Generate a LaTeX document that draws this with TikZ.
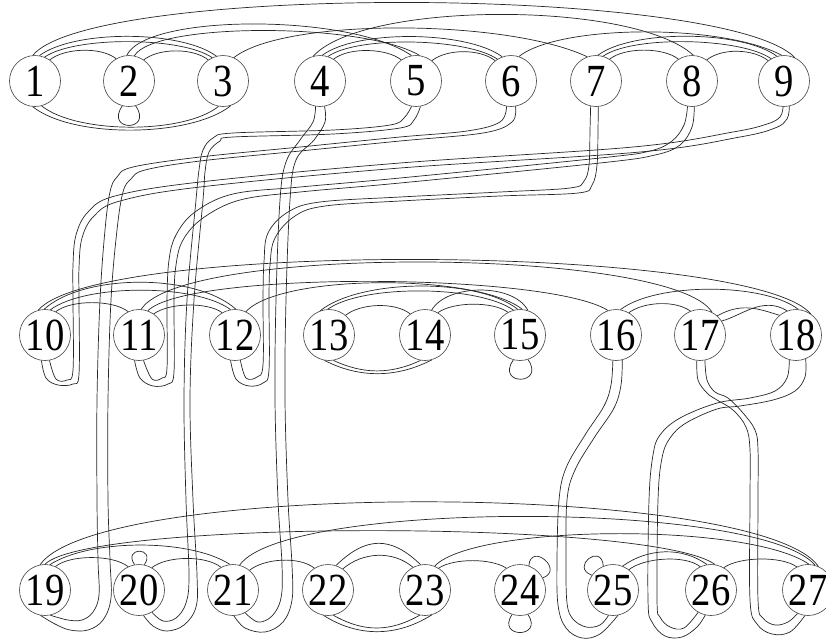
\documentclass[tikz,border=0pt]{standalone}
\usepackage{fontspec}
\newfontfamily\labfont[FakeStretch=0.84]{Liberation Serif}
\begin{document}
\begin{tikzpicture}[x=1pt,y=-1pt,line width=0.7pt,
  vtx/.style={circle,draw=black!75,line width=0.6pt,fill=white,minimum size=51pt,inner sep=0pt,
    font=\labfont\fontsize{46}{46}\selectfont},
  edge/.style={draw=black!85}]
\clip (0,0) rectangle (826,641);
\useasboundingbox (0,0) rectangle (826,641);
\newcommand\tarc[6]{\draw[edge] (#1.#2) .. controls +(#5,-#6) and +(-#5,-#6) .. (#3.#4);}
\newcommand\barc[6]{\draw[edge] (#1.#2) .. controls +(#5,#6) and +(-#5,#6) .. (#3.#4);}
% nodes
\foreach \n/\x in {1/35,2/129,3/223,4/320,5/416,6/511,7/596,8/692,9/784}
  \node[vtx] (n\n) at (\x,81) {\n};
\foreach \n/\x in {10/45,11/139,12/235,13/329,14/425,15/520,16/616,17/700,18/796}
  \node[vtx] (n\n) at (\x,335) {\n};
\foreach \n/\x in {19/45,20/139,21/233,22/328,23/425,24/520,25/613,26/711,27/808}
  \node[vtx] (n\n) at (\x,590) {\n};
\begin{scope}[edge]
% ---- row 1 top arcs
\tarc{n1}{55}{n2}{120}{15}{12}
\tarc{n2}{55}{n3}{125}{15}{12}
\tarc{n1}{80}{n3}{105}{35}{26}
\tarc{n1}{68}{n3}{115}{30}{21}
\draw[edge] (n1.95) .. controls +(60,-72) and +(-70,-72) .. (n9.65);
\draw[edge] (n2.95) .. controls +(20,-42) and +(-60,-42) .. (n5.100);
\draw[edge] (n2.78) .. controls +(20,-34) and +(-55,-33) .. (n5.82);
\draw[edge] (n3.65) .. controls +(50,-40) and +(-80,-38) .. (n7.110);
\tarc{n4}{58}{n5}{125}{15}{12}
\tarc{n4}{85}{n6}{110}{35}{26}
\tarc{n4}{72}{n6}{122}{30}{21}
\draw[edge] (n4.105) .. controls +(50,-55) and +(-60,-55) .. (n8.87);
\tarc{n5}{52}{n6}{128}{15}{12}
\draw[edge] (n6.72) .. controls +(40,-32) and +(-60,-32) .. (n9.95);
\tarc{n7}{58}{n8}{122}{15}{12}
\tarc{n7}{86}{n9}{106}{35}{26}
\tarc{n7}{74}{n9}{120}{30}{21}
\tarc{n8}{55}{n9}{128}{15}{12}
% ---- row 1 bottom
\barc{n1}{-95}{n3}{-72}{40}{32}
\barc{n1}{-75}{n3}{-100}{35}{28}
\draw[edge] (n2.-105) .. controls +(-18,26) and +(18,26) .. (n2.-75);
% ---- long edges
% 4-21
\draw[edge] plot[smooth,tension=0.6] coordinates {(n4.-100) (313,122) (300,140) (286,162) (280,200) (276,300) (275,400) (278,500) (282,565) (281,598) (272,616) (258,622) (n21.-62)};
\draw[edge] plot[smooth,tension=0.6] coordinates {(n4.-80) (325,122) (314,140) (296,160) (290,200) (286,300) (285,400) (288,500) (292,565) (292,600) (283,622) (265,632) (245,628) (n21.-88)};
% 5-20
\draw[edge] plot[smooth,tension=0.6] coordinates {(n5.-100) (404,118) (390,125) (333,130) (233,133) (213,138) (203,150) (199,170) (196,200) (187,300) (184,400) (186,500) (189,575) (186,603) (176,618) (163,621) (n20.-60)};
\draw[edge] plot[smooth,tension=0.6] coordinates {(n5.-80) (414,120) (400,128) (333,134) (233,137) (220,141) (209,152) (205,172) (203,200) (194,300) (190,400) (193,500) (197,575) (196,607) (184,625) (167,631) (153,626) (n20.-80)};
% 6-19
\draw[edge] plot[smooth,tension=0.6] coordinates {(n6.-100) (500,122) (467,131) (400,137) (300,147) (200,157) (133,167) (117,177) (110,192) (105,230) (100,300) (97,400) (97,500) (98,560) (99,595) (93,612) (82,620) (68,620) (n19.-78)};
\draw[edge] plot[smooth,tension=0.6] coordinates {(n6.-80) (512,122) (483,133) (400,141) (300,151) (200,161) (145,170) (131,179) (123,192) (117,230) (111,300) (108,400) (108,500) (110,560) (111,598) (103,620) (88,630) (70,630) (55,624) (n19.-100)};
% 7-12
\draw[edge] plot[smooth,tension=0.6] coordinates {(n7.-102) (590,130) (589,165) (584,181) (570,188) (500,192) (400,197) (320,202) (288,212) (268,233) (264,262) (263,300) (263,365) (257,377) (246,378) (n12.-78)};
\draw[edge] plot[smooth,tension=0.6] coordinates {(n7.-85) (598,130) (597,165) (592,185) (578,193) (500,196) (400,201) (325,206) (295,216) (275,238) (270,265) (269,300) (269,370) (263,383) (249,386) (236,379) (n12.-100)};
% 8-11
\draw[edge] plot[smooth,tension=0.6] coordinates {(n8.-100) (684,125) (672,141) (650,151) (600,158) (400,178) (300,187) (233,194) (195,212) (176,235) (169,260) (167,300) (167,368) (162,378) (152,379) (n11.-80)};
\draw[edge] plot[smooth,tension=0.6] coordinates {(n8.-85) (692,127) (680,145) (655,155) (600,163) (400,183) (300,192) (240,200) (203,218) (183,240) (176,265) (174,300) (174,372) (168,384) (153,386) (140,378) (n11.-100)};
% 9-10
\draw[edge] plot[smooth,tension=0.6] coordinates {(n9.-92) (780,117) (767,124) (733,132) (633,147) (400,163) (200,182) (115,196) (88,212) (76,235) (73,265) (73,300) (73,370) (67,380) (56,379) (n10.-80)};
\draw[edge] plot[smooth,tension=0.6] coordinates {(n9.-78) (787,119) (775,128) (740,137) (640,152) (400,168) (200,187) (120,201) (94,216) (82,238) (79,268) (79,300) (79,374) (73,384) (58,385) (46,378) (n10.-98)};
% 16-25
\draw[edge] plot[smooth,tension=0.6] coordinates {(n16.-97) (611,385) (604,406) (585,435) (566,468) (559,500) (557,560) (558,605) (566,628) (582,638) (600,634) (n25.-79)};
\draw[edge] plot[smooth,tension=0.6] coordinates {(n16.-76) (621,385) (614,408) (594,438) (575,470) (567,500) (566,560) (567,603) (573,619) (586,627) (600,625) (n25.-100)};
% 18-26
\draw[edge] plot[smooth,tension=0.6] coordinates {(n18.-105) (787,378) (775,391) (750,398) (717,403) (680,418) (660,435) (653,455) (649,500) (648,600) (652,622) (665,636) (682,637) (697,627) (n26.-103)};
\draw[edge] plot[smooth,tension=0.6] coordinates {(n18.-68) (805,377) (795,391) (773,400) (740,406) (717,409) (686,423) (670,438) (662,458) (658,500) (657,600) (660,617) (670,627) (684,628) (n26.-120)};
% 17-27
\draw[edge] plot[smooth,tension=0.6] coordinates {(n17.-97) (698,380) (707,393) (717,400) (733,410) (746,427) (750,450) (750,500) (750,600) (757,624) (772,634) (790,632) (n27.-97)};
\draw[edge] plot[smooth,tension=0.6] coordinates {(n17.-79) (707,380) (715,392) (728,398) (743,413) (755,430) (758,450) (758,500) (758,600) (763,618) (775,625) (788,622) (n27.-114)};
% ---- row 2 top arcs
\tarc{n10}{65}{n11}{115}{15}{12}
\tarc{n10}{92}{n12}{88}{40}{36}
\tarc{n10}{78}{n12}{100}{35}{26}
\draw[edge] (n10.105) .. controls +(60,-70) and +(-60,-70) .. (n18.55);
\tarc{n11}{55}{n12}{120}{15}{11}
\draw[edge] (n11.85) .. controls +(40,-65) and +(-40,-65) .. (n17.62);
\draw[edge] (n11.70) .. controls +(40,-40) and +(-60,-38) .. (n16.108);
\draw[edge] (n12.65) .. controls +(35,-38) and +(-45,-36) .. (n15.85);
\tarc{n13}{50}{n14}{125}{15}{12}
\tarc{n13}{110}{n15}{95}{40}{32}
\tarc{n13}{93}{n15}{105}{35}{25}
\draw[edge] (n14.75) .. controls +(15,-26) and +(-15,-28) .. (n15.72);
\tarc{n14}{60}{n15}{118}{15}{11}
\tarc{n16}{60}{n17}{112}{15}{11}
\tarc{n16}{80}{n18}{85}{35}{27}
\draw[edge] (n17.48) .. controls +(25,-14) and +(-20,-6) .. (n18.130);
\draw[edge] (n17.33) .. controls +(20,-5) and +(-25,-15) .. (n18.110);
% ---- row 2 bottom
\barc{n13}{-100}{n14}{-75}{35}{18}
\barc{n13}{-80}{n14}{-100}{30}{14}
\draw[edge] (n15.-105) .. controls +(-18,26) and +(18,26) .. (n15.-72);
% ---- row 3 top arcs
\tarc{n19}{66}{n20}{115}{15}{12}
\tarc{n19}{79}{n21}{97}{40}{26}
\draw[edge] (n19.90) .. controls +(45,-45) and +(-60,-45) .. (n26.81);
\draw[edge] (n19.101) .. controls +(60,-85) and +(-60,-85) .. (n27.66);
\tarc{n20}{60}{n21}{118}{15}{12}
\tarc{n21}{50}{n22}{122}{15}{12}
\draw[edge] (n21.75) .. controls +(45,-65) and +(-55,-65) .. (n27.74);
\tarc{n22}{72}{n23}{100}{30}{29}
\tarc{n22}{55}{n23}{118}{20}{17}
\tarc{n23}{58}{n24}{122}{15}{10}
\draw[edge] (n23.68) .. controls +(40,-42) and +(-60,-42) .. (n27.88);
\tarc{n25}{68}{n26}{99}{25}{18}
\tarc{n25}{52}{n26}{115}{15}{12}
\tarc{n26}{60}{n27}{116}{15}{11}
\draw[edge] (n20.100) .. controls +(-12,-18) and +(12,-18) .. (n20.78);
\draw[edge] (n24.70) .. controls +(2,-24) and +(22,-8) .. (n24.28);
\draw[edge] (n24.-108) .. controls +(-16,24) and +(16,24) .. (n24.-72);
\draw[edge] (n25.145) .. controls +(-22,-8) and +(-2,-24) .. (n25.112);
% ---- row 3 bottom
\barc{n22}{-100}{n23}{-75}{35}{22}
\barc{n22}{-78}{n23}{-102}{30}{17}
\end{scope}
\end{tikzpicture}
\end{document}
